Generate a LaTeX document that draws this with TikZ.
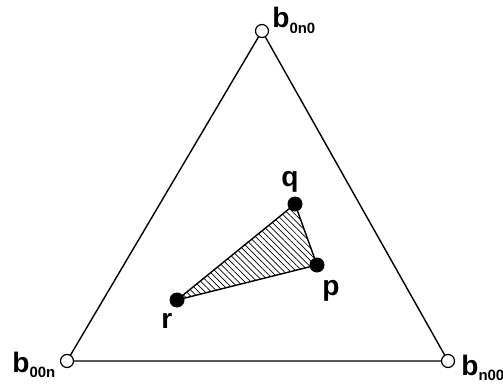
\documentclass[tikz,border=0pt]{standalone}
\usepackage{fontspec}
\setmainfont{Liberation Sans}
\usetikzlibrary{patterns.meta}
\newcommand{\bidx}[1]{b\raisebox{-3pt}{\fontsize{8.5}{10}\selectfont\bfseries #1}}
\tikzset{
  vopen/.style={circle,draw,fill=white,inner sep=0pt,minimum size=0.26cm,line width=0.7pt},
  vfull/.style={circle,fill=black,inner sep=0pt,minimum size=0.3cm},
  lbl/.style={font=\fontsize{16}{19}\selectfont\bfseries,inner sep=0pt},
  edge/.style={line width=0.8pt},
}
\begin{document}
\begin{tikzpicture}[x=0.02cm,y=-0.02cm]
\useasboundingbox (0,0) rectangle (503,385);
% corner points of the big triangle
\coordinate (t0n0) at (262,31);
\coordinate (t00n) at (67,361);
\coordinate (tn00) at (448,361);
% inner points
\coordinate (cq) at (295,204);
\coordinate (cp) at (317,265);
\coordinate (cr) at (177,300);
% hatched inner triangle
\fill[pattern={Lines[angle=-45,distance=2.5pt,line width=0.4pt]}] (cq) -- (cp) -- (cr) -- cycle;
\draw[edge] (t0n0) -- (tn00) -- (t00n) -- cycle;
\draw[edge] (cq) -- (cp) -- (cr) -- cycle;
% vertices
\node[vopen] (b0n0) at (t0n0) {};
\node[vopen] (b00n) at (t00n) {};
\node[vopen] (bn00) at (tn00) {};
\node[vfull] (q) at (cq) {};
\node[vfull] (p) at (cp) {};
\node[vfull] (r) at (cr) {};
% labels
\node[lbl,anchor=base west] (l0n0) at (272,28) {\bidx{0n0}};
\node[lbl,anchor=base west] (l00n) at (12,372) {\bidx{00n}};
\node[lbl,anchor=base west] (ln00) at (461,375) {\bidx{n00}};
\node[lbl,anchor=base] (lq) at (290,186) {q};
\node[lbl,anchor=base west] (lp) at (322,295) {p};
\node[lbl,anchor=base west] (lr) at (161,328) {r};
\end{tikzpicture}
\end{document}
